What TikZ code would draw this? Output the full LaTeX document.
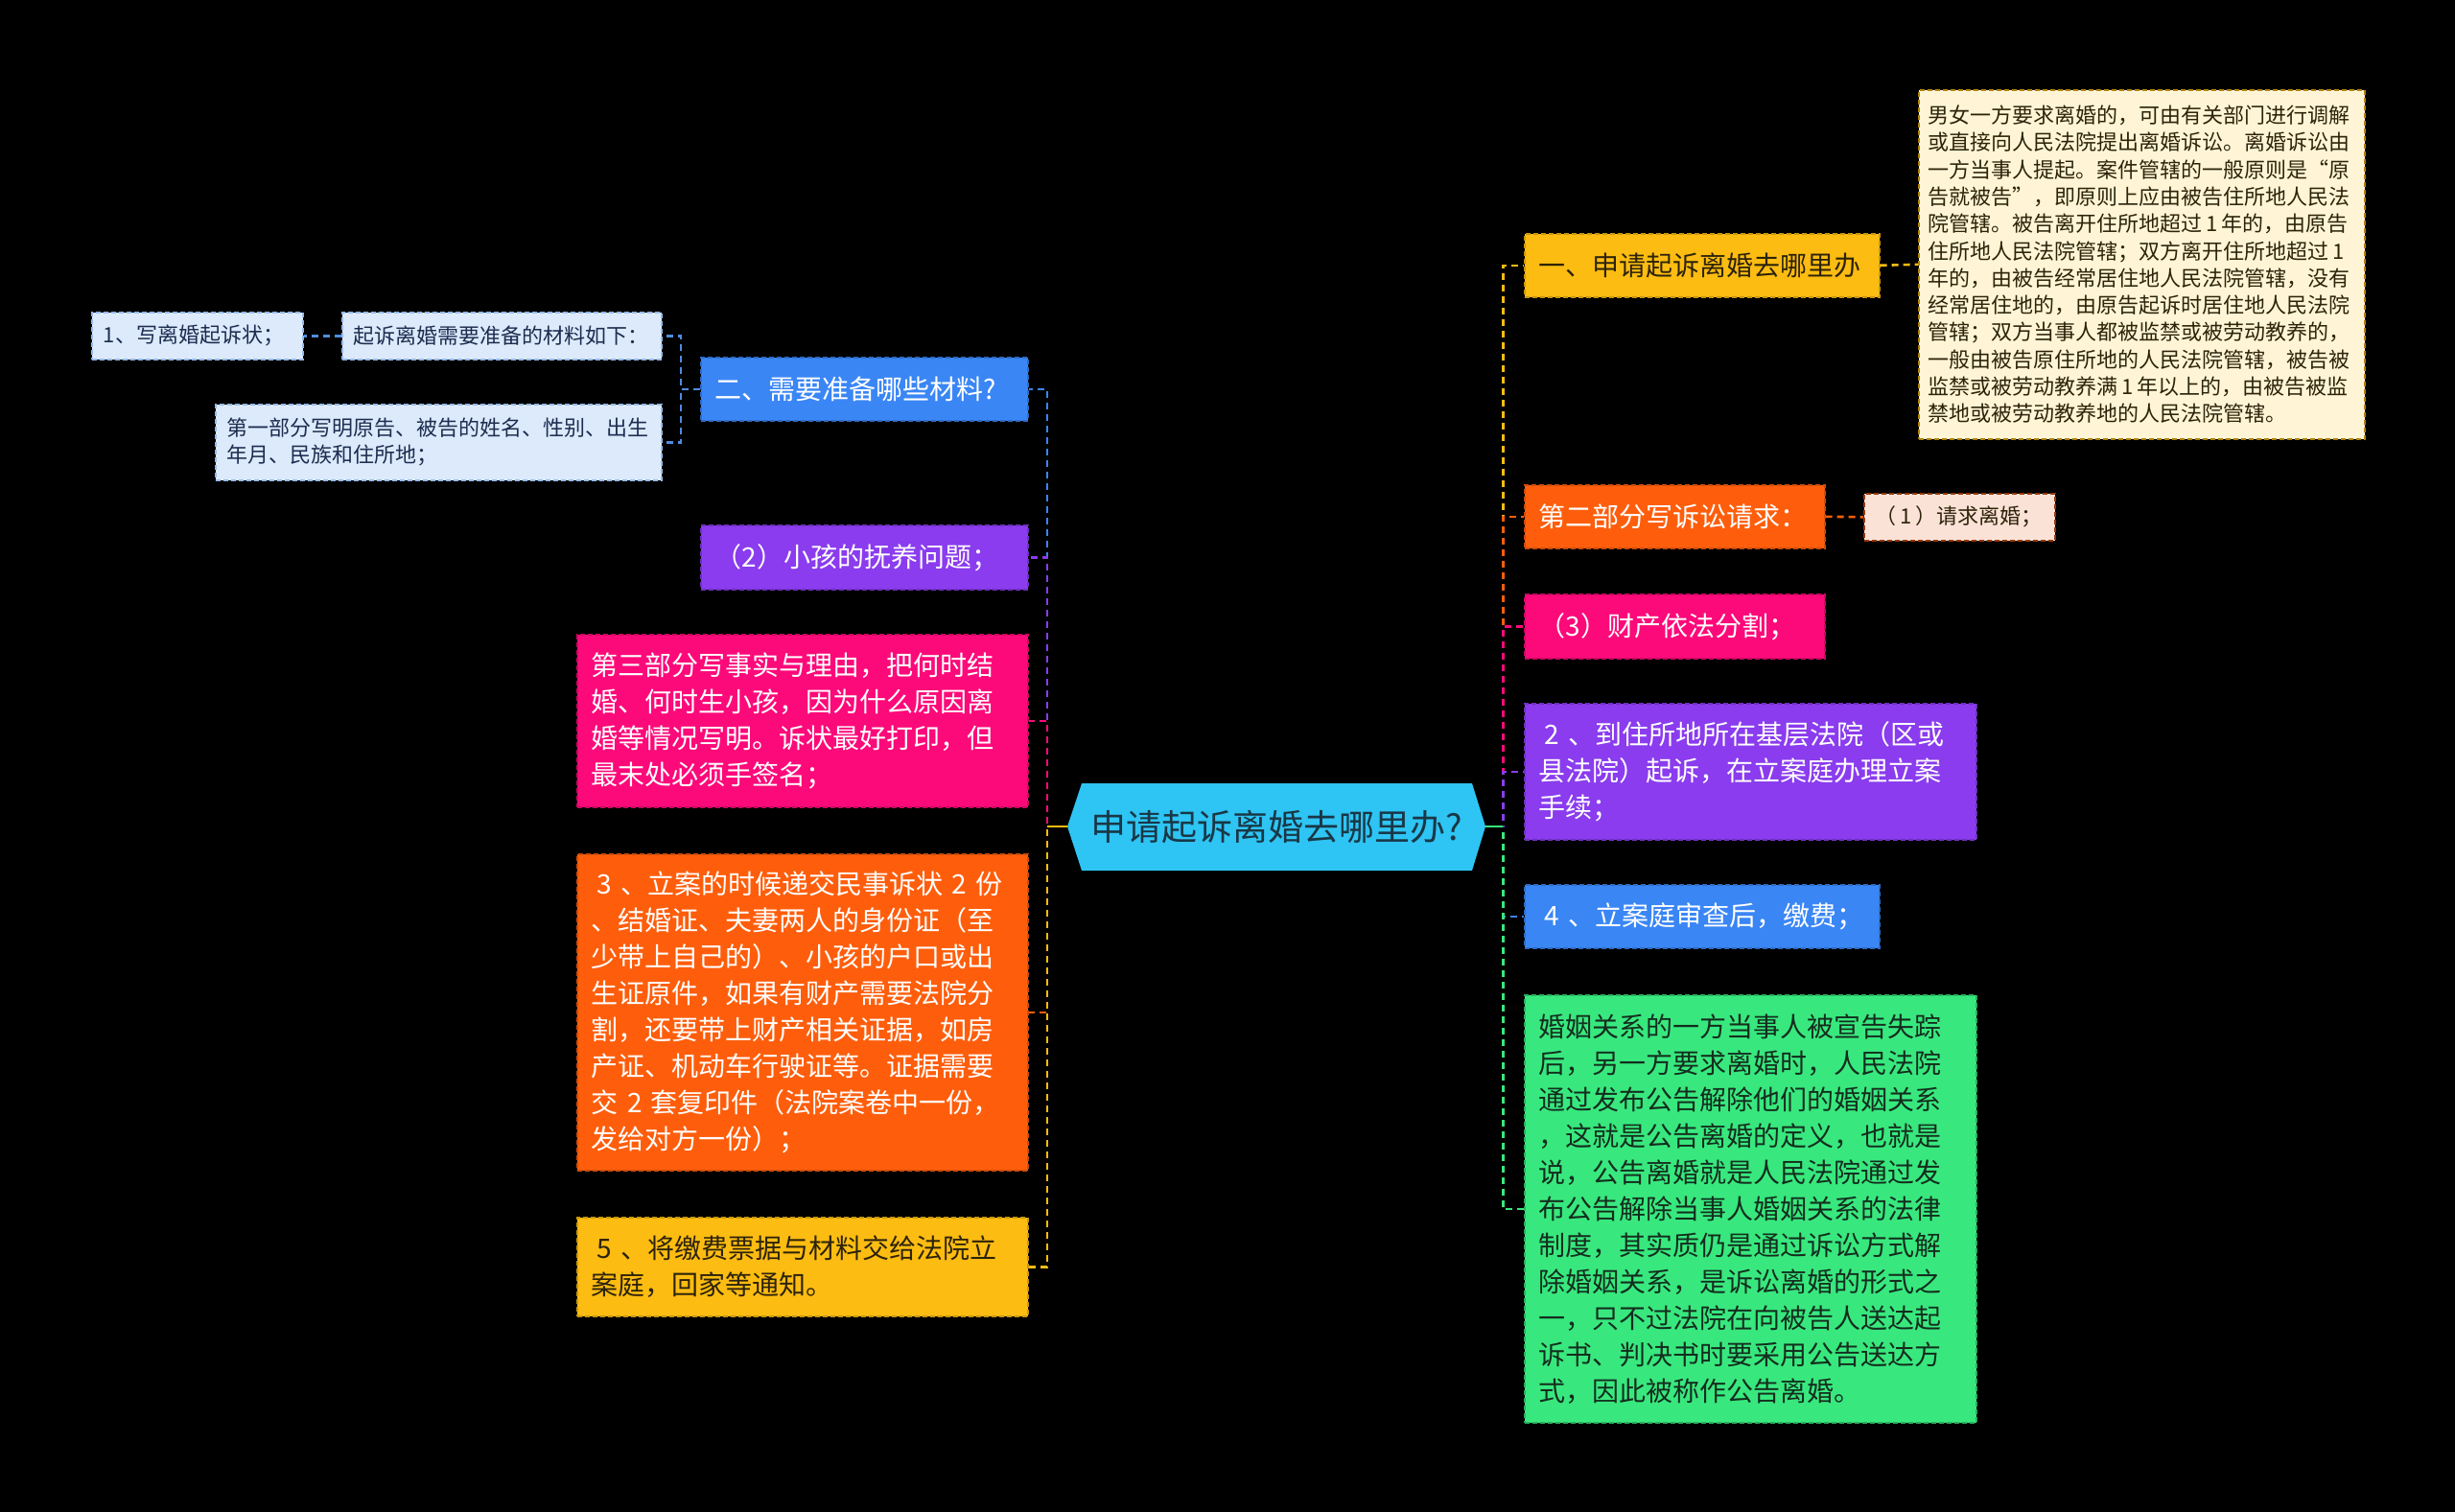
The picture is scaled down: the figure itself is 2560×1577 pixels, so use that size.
\documentclass[tikz,border=0pt]{standalone}
\usepackage{fontspec}
\setmainfont{Noto Sans CJK SC}
\definecolor{cy}{RGB}{252,188,18}
\definecolor{co}{RGB}{254,94,12}
\definecolor{cp}{RGB}{252,10,122}
\definecolor{cv}{RGB}{138,60,238}
\definecolor{cb}{RGB}{58,134,245}
\definecolor{cg}{RGB}{56,232,126}
\definecolor{croot}{RGB}{46,196,243}
\definecolor{clb}{RGB}{220,234,251}
\definecolor{cnote}{RGB}{255,245,214}
\definecolor{creq}{RGB}{251,226,214}
\definecolor{clbline}{RGB}{80,140,222}
\definecolor{tdark}{RGB}{45,35,10}
\definecolor{tnavy}{RGB}{30,45,80}
\definecolor{tgreen}{RGB}{20,45,30}
\definecolor{troot}{RGB}{25,55,70}
\tikzset{
  bx/.style={anchor=north west, inner xsep=15pt, inner ysep=0pt, align=left,
    line width=1.6pt, dash pattern=on 5pt off 3pt},
  big/.style={font=\fontsize{28}{38}\selectfont},
  small/.style={font=\fontsize{22}{28.3}\selectfont, inner xsep=12pt},
  conn/.style={line width=2.6pt, dash pattern=on 7pt off 5pt},
  conntwo/.style={conn, draw=clbline},
}
\begin{document}
\begin{tikzpicture}[x=1pt,y=-1pt]
\fill[black] (0,0) rectangle (2560,1577);
\useasboundingbox (0,0) rectangle (2560,1577);

% root hexagon
\fill[croot] (1113,862) -- (1128,817) -- (1535,817) -- (1549,862) -- (1535,908) -- (1128,908) -- cycle;
\node[minimum width=436pt, minimum height=91pt, inner sep=0pt, text=troot,
  font=\fontsize{37}{44}\selectfont] (root) at (1331,862) {申请起诉离婚去哪里办?};

% left level 2
\node[bx, small, fill=clb, draw=clbline!60, text=tnavy, minimum width=220pt, minimum height=49pt, text width=196pt]
  (w1) at (95,325) {1、写离婚起诉状；};
\node[bx, small, fill=clb, draw=clbline!60, text=tnavy, minimum width=333pt, minimum height=49pt, text width=309pt]
  (mat) at (356,325) {起诉离婚需要准备的材料如下：};
\node[bx, small, fill=clb, draw=clbline!60, text=tnavy, minimum width=465pt, minimum height=79pt, text width=441pt]
  (first) at (224,421) {第一部分写明原告、被告的姓名、性别、出生\\年月、民族和住所地；};

% left level 1
\node[bx, big, fill=cb, draw=cb!80!black, text=white, minimum width=341pt, minimum height=66pt, text width=311pt]
  (L1) at (730,372) {二、需要准备哪些材料?};
\node[bx, big, fill=cv, draw=cv!80!black, text=white, minimum width=341pt, minimum height=67pt, text width=311pt]
  (L2) at (730,547) {（2）小孩的抚养问题；};
\node[bx, big, fill=cp, draw=cp!80!black, text=white, minimum width=470pt, minimum height=180pt, text width=440pt]
  (L3) at (601,661) {第三部分写事实与理由，把何时结\\婚、何时生小孩，因为什么原因离\\婚等情况写明。诉状最好打印，但\\最末处必须手签名；};
\node[bx, big, fill=co, draw=co!80!black, text=white, minimum width=470pt, minimum height=330pt, text width=440pt]
  (L4) at (601,890) {\hspace*{6pt}3~、立案的时候递交民事诉状~2~份\\、结婚证、夫妻两人的身份证（至\\少带上自己的）、小孩的户口或出\\生证原件，如果有财产需要法院分\\割，还要带上财产相关证据，如房\\产证、机动车行驶证等。证据需要\\交~2~套复印件（法院案卷中一份，\\发给对方一份）；};
\node[bx, big, fill=cy, draw=cy!80!black, text=tdark, minimum width=470pt, minimum height=103pt, text width=440pt]
  (L5) at (601,1269) {\hspace*{6pt}5~、将缴费票据与材料交给法院立\\案庭，回家等通知。};

% right level 1
\node[bx, big, fill=cy, draw=cy!80!black, text=tdark, minimum width=370pt, minimum height=66pt, text width=340pt]
  (R1) at (1589,243) {一、申请起诉离婚去哪里办};
\node[bx, big, fill=co, draw=co!80!black, text=white, minimum width=313pt, minimum height=66pt, text width=283pt]
  (R2) at (1589,505) {第二部分写诉讼请求：};
\node[bx, big, fill=cp, draw=cp!80!black, text=white, minimum width=313pt, minimum height=67pt, text width=283pt]
  (R3) at (1589,619) {（3）财产依法分割；};
\node[bx, big, fill=cv, draw=cv!80!black, text=white, minimum width=471pt, minimum height=142pt, text width=441pt]
  (R4) at (1589,733) {\hspace*{6pt}2~、到住所地所在基层法院（区或\\县法院）起诉，在立案庭办理立案\\手续；};
\node[bx, big, fill=cb, draw=cb!80!black, text=white, minimum width=370pt, minimum height=66pt, text width=340pt]
  (R5) at (1589,922) {\hspace*{6pt}4~、立案庭审查后，缴费；};
\node[bx, big, fill=cg, draw=cg!75!black, text=tgreen, minimum width=471pt, minimum height=446pt, text width=441pt]
  (R6) at (1589,1037) {婚姻关系的一方当事人被宣告失踪\\后，另一方要求离婚时，人民法院\\通过发布公告解除他们的婚姻关系\\，这就是公告离婚的定义，也就是\\说，公告离婚就是人民法院通过发\\布公告解除当事人婚姻关系的法律\\制度，其实质仍是通过诉讼方式解\\除婚姻关系，是诉讼离婚的形式之\\一，只不过法院在向被告人送达起\\诉书、判决书时要采用公告送达方\\式，因此被称作公告离婚。};

% right level 2
\node[bx, small, fill=cnote, draw=cy!70!black, text=tdark, inner xsep=10pt, minimum width=465pt, minimum height=364pt, text width=445pt]
  (note) at (2000,93) {男女一方要求离婚的，可由有关部门进行调解\\或直接向人民法院提出离婚诉讼。离婚诉讼由\\一方当事人提起。案件管辖的一般原则是“原\\告就被告”，即原则上应由被告住所地人民法\\院管辖。被告离开住所地超过\,1\,年的，由原告\\住所地人民法院管辖；双方离开住所地超过\,1\\年的，由被告经常居住地人民法院管辖，没有\\经常居住地的，由原告起诉时居住地人民法院\\管辖；双方当事人都被监禁或被劳动教养的，\\一般由被告原住所地的人民法院管辖，被告被\\监禁或被劳动教养满\,1\,年以上的，由被告被监\\禁地或被劳动教养地的人民法院管辖。};
\node[bx, small, fill=creq, draw=co!60!black, text=tdark, minimum width=199pt, minimum height=49pt, text width=175pt]
  (req) at (1943,514) {（\,1\,）请求离婚；};

% connectors left
\draw[conn, draw=co] (root.west) -- ++(-21,0) |- (L4.east);
\draw[conn, draw=cy] (root.west) -- ++(-21,0) |- (L5.east);
\draw[conn, draw=cb] (root.west) -- ++(-21,0) |- (L1.east);
\draw[conn, draw=cv] (root.west) -- ++(-21,0) |- (L2.east);
\draw[conn, draw=cp] (root.west) -- ++(-21,0) |- (L3.east);
\draw[line width=2.6pt, draw=cy] (root.west) -- ++(-21,0);

\draw[conntwo] (L1.west) -- ++(-20,0) |- (mat.east);
\draw[conntwo] (L1.west) -- ++(-20,0) |- (first.east);
\draw[conntwo] (mat.west) -- (w1.east);

% connectors right
\draw[conn, draw=cb] (root.east) -- ++(18,0) |- (R5.west);
\draw[conn, draw=cg] (root.east) -- ++(18,0) |- (R6.west);
\draw[conn, draw=cy] (root.east) -- ++(18,0) |- (R1.west);
\draw[conn, draw=co] (root.east) -- ++(18,0) |- (R2.west);
\draw[conn, draw=cp] (root.east) -- ++(18,0) |- (R3.west);
\draw[conn, draw=cv] (root.east) -- ++(18,0) |- (R4.west);
\draw[line width=2.6pt, draw=cg] (root.east) -- ++(18,0);

\draw[conn, draw=cy] (R1.east) -- (note.west);
\draw[conn, draw=co] (R2.east) -- (req.west);
\end{tikzpicture}
\end{document}
